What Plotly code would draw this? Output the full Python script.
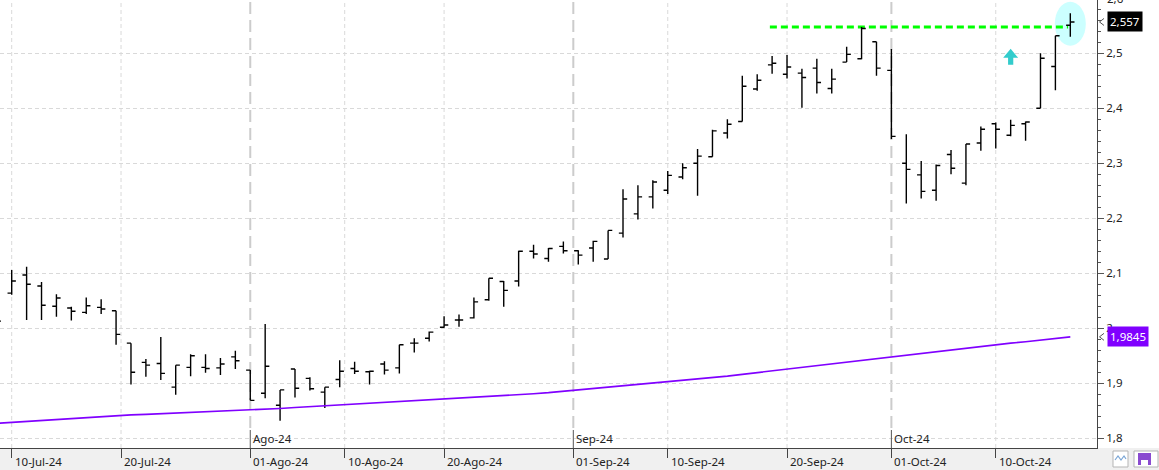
import numpy as np
import pandas as pd
import plotly.graph_objects as go

# ---------------- data ----------------
sessions = pd.bdate_range("2024-07-09", "2024-10-17")   # 73 trading sessions

opens = [2.025, 2.064, 2.097, 2.077, 2.040, 2.037, 2.029, 2.038, 2.032, 1.973,
         1.938, 1.936, 1.893, 1.929, 1.929, 1.928, 1.948, 1.924, 1.882, 1.860,
         1.926, 1.909, 1.884, 1.907, 1.927, 1.921, 1.935, 1.928, 1.973, 1.982,
         2.002, 2.015, 2.019, 2.052, 2.085, 2.086, 2.140, 2.127, 2.149, 2.141,
         2.146, 2.126, 2.173, 2.208, 2.239, 2.251, 2.275, 2.300, 2.312, 2.355,
         2.376, 2.435, 2.479, 2.462, 2.464, 2.473, 2.436, 2.484, 2.490, 2.521,
         2.469, 2.300, 2.279, 2.251, 2.316, 2.264, 2.337, 2.372, 2.351, 2.372,
         2.400, 2.476, 2.551]
highs = [2.030, 2.106, 2.112, 2.084, 2.062, 2.039, 2.056, 2.053, 2.032, 1.973,
         1.944, 1.984, 1.933, 1.953, 1.953, 1.946, 1.959, 1.924, 2.008, 1.888,
         1.926, 1.911, 1.893, 1.942, 1.939, 1.923, 1.940, 1.970, 1.982, 1.994,
         2.022, 2.025, 2.056, 2.091, 2.086, 2.141, 2.152, 2.146, 2.158, 2.142,
         2.159, 2.178, 2.253, 2.260, 2.269, 2.286, 2.300, 2.326, 2.361, 2.380,
         2.459, 2.462, 2.495, 2.497, 2.472, 2.490, 2.472, 2.512, 2.548, 2.521,
         2.508, 2.353, 2.304, 2.298, 2.324, 2.335, 2.367, 2.374, 2.379, 2.376,
         2.500, 2.532, 2.573]
lows = [2.008, 2.061, 2.015, 2.015, 2.021, 2.014, 2.026, 2.026, 1.970, 1.898,
        1.912, 1.906, 1.879, 1.913, 1.919, 1.915, 1.926, 1.869, 1.873, 1.832,
        1.874, 1.887, 1.855, 1.893, 1.917, 1.898, 1.916, 1.918, 1.956, 1.976,
        2.001, 2.003, 2.018, 2.050, 2.039, 2.076, 2.127, 2.121, 2.136, 2.116,
        2.121, 2.126, 2.165, 2.198, 2.218, 2.244, 2.271, 2.241, 2.312, 2.345,
        2.376, 2.432, 2.463, 2.454, 2.401, 2.427, 2.427, 2.484, 2.489, 2.459,
        2.344, 2.227, 2.236, 2.232, 2.280, 2.260, 2.323, 2.327, 2.349, 2.341,
        2.400, 2.433, 2.530]
closes = [2.013, 2.086, 2.080, 2.042, 2.055, 2.031, 2.041, 2.035, 1.989, 1.920,
          1.933, 1.918, 1.933, 1.950, 1.927, 1.935, 1.941, 1.869, 1.931, 1.888,
          1.891, 1.890, 1.893, 1.922, 1.922, 1.922, 1.924, 1.970, 1.973, 1.993,
          2.006, 2.015, 2.048, 2.091, 2.069, 2.140, 2.135, 2.145, 2.141, 2.133,
          2.158, 2.178, 2.235, 2.239, 2.266, 2.278, 2.292, 2.313, 2.359, 2.371,
          2.440, 2.451, 2.482, 2.475, 2.456, 2.447, 2.453, 2.498, 2.545, 2.473,
          2.349, 2.289, 2.249, 2.296, 2.291, 2.335, 2.362, 2.362, 2.369, 2.375,
          2.491, 2.532, 2.557]
moving_avg = [1.8272, 1.8290, 1.8307, 1.8325, 1.8343, 1.8360, 1.8378, 1.8396, 1.8413, 1.8426,
              1.8436, 1.8447, 1.8457, 1.8468, 1.8479, 1.8489, 1.8500, 1.8512, 1.8528, 1.8543,
              1.8559, 1.8574, 1.8590, 1.8605, 1.8621, 1.8637, 1.8653, 1.8669, 1.8685, 1.8701,
              1.8716, 1.8732, 1.8748, 1.8764, 1.8780, 1.8795, 1.8811, 1.8830, 1.8855, 1.8879,
              1.8903, 1.8927, 1.8951, 1.8975, 1.8998, 1.9024, 1.9050, 1.9076, 1.9102, 1.9131,
              1.9163, 1.9195, 1.9227, 1.9259, 1.9291, 1.9323, 1.9355, 1.9387, 1.9419, 1.9451,
              1.9482, 1.9513, 1.9544, 1.9575, 1.9606, 1.9637, 1.9668, 1.9699, 1.9730, 1.9755,
              1.9785, 1.9815, 1.9845]

tick_dates = ["2024-07-10", "2024-07-20", "2024-08-01", "2024-08-10", "2024-08-20",
              "2024-09-01", "2024-09-10", "2024-09-20", "2024-10-01", "2024-10-10"]
tick_labels = ["10-Jul-24", "20-Jul-24", "01-Ago-24", "10-Ago-24", "20-Ago-24",
               "01-Sep-24", "10-Sep-24", "20-Sep-24", "01-Oct-24", "10-Oct-24"]
month_dates = ["2024-08-01", "2024-09-01", "2024-10-01"]
month_labels = ["Ago-24", "Sep-24", "Oct-24"]

last_price = 2.557
last_price_text = "2,557"
ma_last = 1.9845
ma_last_text = "1,9845"
resistance = 2.548
resistance_from = "2024-09-19"
resistance_to = "2024-10-17"
signal_date = "2024-10-11"
signal_price = 2.479
y_top_label = 2.6

# ---------------- helpers ----------------
idx = np.arange(len(sessions))


def date_pos(d):
    d = pd.Timestamp(d)
    k = int(sessions.searchsorted(d, side="right")) - 1
    if sessions[k] == d:
        return float(k)
    gap = (sessions[k + 1] - sessions[k]).days
    return k + (d - sessions[k]).days / gap


W, H = 1159, 470
ML, MR, MT, MB = 0, 62, 0, 22
PW, PH = W - ML - MR, H - MT - MB
X_RANGE = [0.2153, 73.79]
Y_RANGE = [1.7824, 2.5969]


def yfrac(v):
    return (v - Y_RANGE[0]) / (Y_RANGE[1] - Y_RANGE[0])


def px_x(p):
    return p / PW


def px_y(p):
    return (PH - p) / PH


FONT = "Noto Sans"
TXT = "#222222"

fig = go.Figure()

fig.add_trace(go.Scatter(
    x=idx, y=moving_avg, mode="lines",
    line=dict(color="#8000ff", width=1.6),
    hoverinfo="skip", showlegend=False))

fig.add_trace(go.Ohlc(
    x=idx, open=opens, high=highs, low=lows, close=closes,
    increasing=dict(line=dict(color="black", width=1.4)),
    decreasing=dict(line=dict(color="black", width=1.4)),
    tickwidth=0.28, hoverinfo="skip", showlegend=False))

shapes = []
annotations = []

# highlight ellipse round the last bar
shapes.append(dict(type="circle", xref="x", yref="y", layer="below",
                   xsizemode="pixel", ysizemode="pixel",
                   xanchor=float(idx[-1]), yanchor=2.5538,
                   x0=-15.5, x1=15.5, y0=-22, y1=22,
                   fillcolor="#ccffff", line=dict(width=0)))

# vertical date grid lines
month_pos = [date_pos(d) for d in month_dates]
for d in tick_dates:
    p = date_pos(d)
    if any(abs(p - m) < 1e-9 for m in month_pos):
        continue
    shapes.append(dict(type="line", xref="x", yref="paper", layer="below",
                       x0=p, x1=p, y0=0, y1=1,
                       line=dict(color="#d9d9d9", width=1, dash="4px,3px")))

# month separators
for p, lab in zip(month_pos, month_labels):
    shapes.append(dict(type="line", xref="x", yref="paper", layer="below",
                       x0=p, x1=p, y0=px_y(428), y1=1,
                       line=dict(color="#cccccc", width=2, dash="12px,6px")))
    shapes.append(dict(type="line", xref="x", yref="paper",
                       x0=p, x1=p, y0=0, y1=px_y(430),
                       line=dict(color="#555555", width=1)))
    annotations.append(dict(x=p, xref="x", y=0, yref="paper", text=lab,
                            showarrow=False, xanchor="left", yanchor="bottom",
                            xshift=1, yshift=0,
                            font=dict(family=FONT, size=11.5, color=TXT)))

# resistance line
shapes.append(dict(type="line", xref="x", yref="y", layer="below",
                   x0=date_pos(resistance_from) - 0.15, x1=date_pos(resistance_to) - 0.15,
                   y0=resistance, y1=resistance,
                   line=dict(color="#00ff00", width=3, dash="7px,4px")))

# signal arrow
shapes.append(dict(type="path", xref="x", yref="y",
                   xsizemode="pixel", ysizemode="pixel",
                   xanchor=date_pos(signal_date), yanchor=signal_price,
                   path="M 0,16 L 7.5,7 L 2.6,7 L 2.6,0 L -2.6,0 L -2.6,7 L -7.5,7 Z",
                   fillcolor="#33cccc", line=dict(width=0)))

# bottom strip
shapes.append(dict(type="rect", xref="paper", yref="paper", layer="below",
                   x0=px_x(0), x1=px_x(W), y0=px_y(H), y1=px_y(PH),
                   fillcolor="#f0f0f0", line=dict(width=0)))

# bottom-right buttons
shapes.append(dict(type="rect", xref="paper", yref="paper",
                   x0=px_x(1113), x1=px_x(1128), y0=px_y(467), y1=px_y(451),
                   fillcolor="white", line=dict(color="#b5b5b5", width=1)))
shapes.append(dict(type="path", xref="paper", yref="paper",
                   path="M {},{} L {},{} L {},{} L {},{} L {},{}".format(
                       px_x(1115), px_y(460), px_x(1118), px_y(456), px_x(1121), px_y(460),
                       px_x(1124), px_y(456), px_x(1126), px_y(459)),
                   line=dict(color="#7aa6d6", width=1.2)))
shapes.append(dict(type="rect", xref="paper", yref="paper",
                   x0=px_x(1134), x1=px_x(1158), y0=px_y(467), y1=px_y(451),
                   fillcolor="white", line=dict(color="#b5b5b5", width=1)))
shapes.append(dict(type="rect", xref="paper", yref="paper",
                   x0=px_x(1138), x1=px_x(1151), y0=px_y(465), y1=px_y(453),
                   fillcolor="#8a4bd0", line=dict(width=0)))
shapes.append(dict(type="rect", xref="paper", yref="paper",
                   x0=px_x(1141), x1=px_x(1148), y0=px_y(465), y1=px_y(460),
                   fillcolor="white", line=dict(width=0)))

# x labels (left aligned next to ticks)
for d, lab in zip(tick_dates, tick_labels):
    annotations.append(dict(x=date_pos(d), xref="x", y=0, yref="paper", text=lab,
                            showarrow=False, xanchor="left", yanchor="top",
                            xshift=1, yshift=-4,
                            font=dict(family=FONT, size=11.5, color=TXT)))

# price labels on the right scale
for v, txt, bg in [(last_price, last_price_text, "black"), (ma_last, ma_last_text, "#8000ff")]:
    annotations.append(dict(x=1, xref="paper", y=yfrac(v), yref="paper", text=txt,
                            showarrow=False, xanchor="left", yanchor="middle",
                            xshift=10, bgcolor=bg, borderpad=2,
                            font=dict(family=FONT, size=11.5, color="white")))
    shapes.append(dict(type="path", xref="paper", yref="paper",
                       xsizemode="pixel", ysizemode="pixel",
                       xanchor=1, yanchor=yfrac(v),
                       path="M 7,3.5 L 2.5,0 L 7,-3.5",
                       line=dict(color="#555555", width=1)))

annotations.append(dict(x=1, xref="paper", y=yfrac(y_top_label), yref="paper",
                        text="2,6", showarrow=False, xanchor="left", yanchor="middle",
                        xshift=8, font=dict(family=FONT, size=11.5, color=TXT)))

fig.update_layout(
    width=W, height=H, autosize=False,
    margin=dict(l=ML, r=MR, t=MT, b=MB, pad=0),
    paper_bgcolor="white", plot_bgcolor="white",
    separators=", ",
    showlegend=False,
    shapes=shapes, annotations=annotations,
    xaxis=dict(range=X_RANGE, showgrid=False, zeroline=False,
               showline=True, linecolor="#444444", linewidth=1,
               ticks="outside", ticklen=9, tickcolor="#444444",
               tickvals=[date_pos(d) for d in tick_dates],
               showticklabels=False, rangeslider=dict(visible=False),
               fixedrange=True),
    yaxis=dict(range=Y_RANGE, side="right", showgrid=True,
               gridcolor="#d9d9d9", griddash="4px,3px", gridwidth=1,
               zeroline=False, showline=True, linecolor="#444444", linewidth=1,
               ticks="outside", ticklen=6, tickcolor="#555555",
               tick0=1.8, dtick=0.1,
               minor=dict(dtick=0.02, tick0=1.8, ticks="outside", ticklen=3,
                          tickcolor="#555555", showgrid=False),
               tickfont=dict(family=FONT, size=11.5, color=TXT),
               fixedrange=True),
)

fig.write_html("out.html", config={"displayModeBar": False},
               post_script="document.body.style.margin='0';")
